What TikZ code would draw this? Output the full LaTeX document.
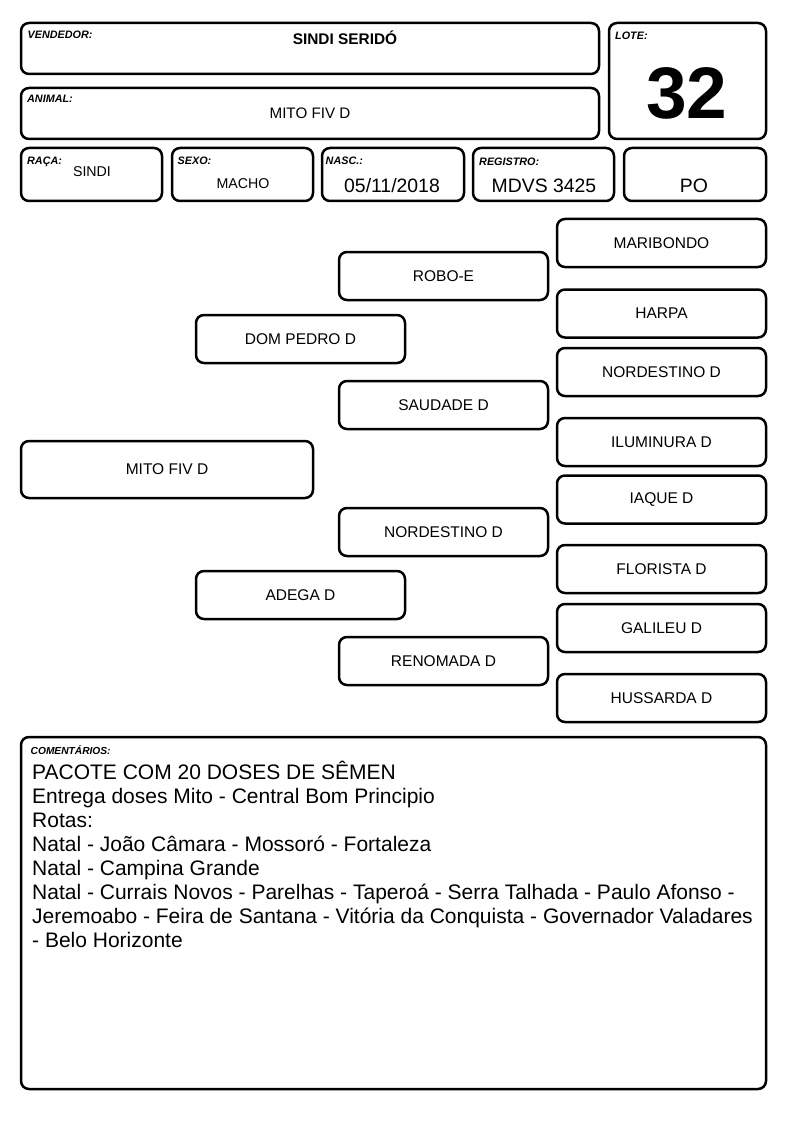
\documentclass[tikz,border=0pt]{standalone}
\usepackage{fontspec}
\setmainfont{Liberation Sans}
\usetikzlibrary{positioning}

\begin{document}
\begin{tikzpicture}[
  x=1pt, y=-1pt,
  card/.style={draw, line width=2.5pt, rounded corners=8pt, inner sep=0pt},
  tag/.style={anchor=north west, inner sep=0pt,
     font=\fontsize{10.8}{12}\selectfont\bfseries\itshape},
  val/.style={inner sep=0pt, font=\fontsize{14.2}{16}\selectfont},
  bigval/.style={inner sep=0pt, font=\fontsize{19.4}{22}\selectfont},
  ped/.style={card, minimum width=209pt, minimum height=48pt,
     font=\fontsize{15.5}{18}\selectfont},
]
\useasboundingbox (0,0) rectangle (794,1123);
% --- columns of the pedigree ---
\def\xa{167} \def\xb{300.5} \def\xc{443.5} \def\xd{661.5}
% --- header ---
\node[card, minimum width=578pt, minimum height=51pt] (vend) at (310,48.5) {};
\node[card, minimum width=578pt, minimum height=51pt] (anim) at (310,113.5) {};
\node[card, minimum width=157pt, minimum height=116pt] (lote) at (687.5,81) {};
\node[tag] (vendtag) at (27.5,31) {VENDEDOR:};
\node[inner sep=0pt, font=\fontsize{15.4}{18}\selectfont\bfseries] (vendval) at (345,37.5) {SINDI SERIDÓ};
\node[tag] (animtag) at (27,95) {ANIMAL:};
\node[val, font=\fontsize{15.2}{18}\selectfont] (animval) at (310,113) {MITO FIV D};
\node[tag] (lotetag) at (615,31.5) {LOTE:};
\node[inner sep=0pt, font=\fontsize{73}{80}\selectfont\bfseries] (loteval) at (687,93) {32};
% second row
\node[card, minimum width=141pt, minimum height=53pt] (raca) at (91.5,174.5) {};
\node[card, minimum width=141pt, minimum height=53pt] (sexo) at (242.5,174.5) {};
\node[card, minimum width=142pt, minimum height=53pt] (nasc) at (393,174.5) {};
\node[card, minimum width=141pt, minimum height=53pt] (reg)  at (543.5,174.5) {};
\node[card, minimum width=142pt, minimum height=53pt] (cat)  at (695,174.5) {};
\node[tag] (racatag) at (27,156.5) {RAÇA:};
\node[tag] (sexotag) at (177.5,157) {SEXO:};
\node[tag] (nasctag) at (325.5,157) {NASC.:};
\node[tag] (regtag)  at (479,157.5) {REGISTRO:};
\node[val] (racaval) at (92,172) {SINDI};
\node[val] (sexoval) at (243,183.5) {MACHO};
\node[bigval] (nascval) at (392,186) {05/11/2018};
\node[bigval] (regval)  at (544,186) {MDVS 3425};
\node[bigval] (catval)  at (694,186) {PO};
% --- pedigree ---
\node[ped, minimum width=292pt, minimum height=57pt] (animal) at (\xa,469.5) {MITO FIV D};
\node[ped] (pai)  at (\xb,339) {DOM PEDRO D};
\node[ped] (mae)  at (\xb,595) {ADEGA D};
\node[ped] (avp)  at (\xc,276) {ROBO-E};
\node[ped] (avop) at (\xc,405) {SAUDADE D};
\node[ped] (avm)  at (\xc,532) {NORDESTINO D};
\node[ped] (avom) at (\xc,661) {RENOMADA D};
\node[ped] (bis1) at (\xd,243)   {MARIBONDO};
\node[ped] (bis2) at (\xd,313.5) {HARPA};
\node[ped] (bis3) at (\xd,372)   {NORDESTINO D};
\node[ped] (bis4) at (\xd,442)   {ILUMINURA D};
\node[ped] (bis5) at (\xd,499.5) {IAQUE D};
\node[ped] (bis6) at (\xd,569)   {FLORISTA D};
\node[ped] (bis7) at (\xd,628)   {GALILEU D};
\node[ped] (bis8) at (\xd,698)   {HUSSARDA D};
% --- comments ---
\node[card, minimum width=745pt, minimum height=352pt] (coment) at (393.5,913) {};
\node[tag, font=\fontsize{10.2}{11}\selectfont\bfseries\itshape] (comenttag) at (30.5,745) {COMENTÁRIOS:};
\node[anchor=north west, inner sep=0pt, align=left,
      font=\fontsize{21}{24}\selectfont] (comenttxt) at (32,761)
  {PACOTE COM 20 DOSES DE SÊMEN\\
   Entrega doses Mito - Central Bom Principio\\
   Rotas:\\
   Natal - João Câmara - Mossoró - Fortaleza\\
   Natal - Campina Grande\\
   Natal - Currais Novos - Parelhas - Taperoá - Serra Talhada - Paulo Afonso -\\
   Jeremoabo - Feira de Santana - Vitória da Conquista - Governador Valadares\\
   - Belo Horizonte};
\end{tikzpicture}
\end{document}
